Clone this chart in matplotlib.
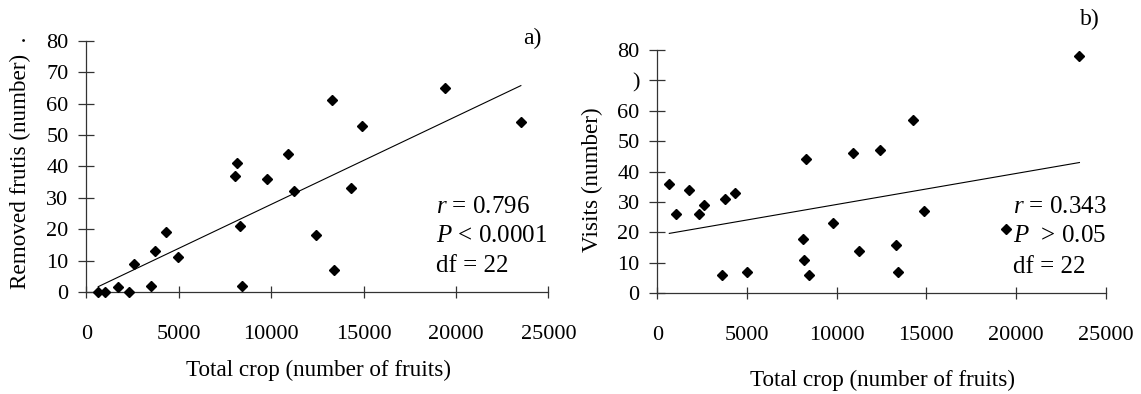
import matplotlib
matplotlib.use("Agg")
import matplotlib.pyplot as plt

plt.rcParams['font.family'] = ['Liberation Serif', 'DejaVu Serif']
plt.rcParams['mathtext.fontset'] = 'custom'
plt.rcParams['mathtext.rm'] = 'Liberation Serif'
plt.rcParams['mathtext.it'] = 'Liberation Serif:italic'

# panel a) removed fruits vs total crop
crop_a = [650, 1000, 1710, 2300, 2600, 3520, 3720, 4330, 4980, 8030, 8180, 8300,
          8440, 9760, 10900, 11250, 12430, 13300, 13430, 14300, 14910, 19430, 23510]
removed = [0, 0, 1.5, 0, 9, 2, 13, 19, 11, 37, 41, 21,
           2, 36, 44, 32, 18, 61, 7, 33, 53, 65, 54]
fit_a_x = [650, 23510]
fit_a_y = [1.7, 65.7]

# panel b) visits vs total crop
crop_b = [670, 1050, 1780, 2330, 2620, 3610, 3790, 4320, 5010, 8110, 8170, 8310,
          8440, 9810, 10890, 11250, 12410, 13300, 13440, 14250, 14860, 19470, 23540]
visits = [36, 26, 34, 26, 29, 6, 31, 33, 7, 18, 11, 44,
          6, 23, 46, 14, 47, 16, 7, 57, 27, 21, 78]
fit_b_x = [670, 23540]
fit_b_y = [19.7, 43.0]

xticks = [0, 5000, 10000, 15000, 20000, 25000]
yticks = [0, 10, 20, 30, 40, 50, 60, 70, 80]
yticklabels_a = ['0', '10', '20', '30', '40', '50', '60', '70', '80']
yticklabels_b = ['0', '10', '20', '30', '40', '50', '60', ')', '80']

W, H = 1141, 394
fig = plt.figure(figsize=(W / 100, H / 100), dpi=100)

ax1 = fig.add_axes([86.2 / W, 1 - 292 / H, 462.2 / W, 251.3 / H])
ax2 = fig.add_axes([657.3 / W, 1 - 293.3 / H, 448.3 / W, 243.3 / H])

fs = 16
lfs = 16.7
for ax, x, y, fx, fy, ylabs in [(ax1, crop_a, removed, fit_a_x, fit_a_y, yticklabels_a),
                                (ax2, crop_b, visits, fit_b_x, fit_b_y, yticklabels_b)]:
    ax.plot(x, y, 'kD', ms=5.5, clip_on=False, zorder=3)
    ax.plot(fx, fy, 'k-', lw=0.8)
    ax.set_xlim(0, 25000)
    ax.set_ylim(0, 80)
    ax.set_xticks(xticks)
    ax.set_xticklabels([str(t) for t in xticks])
    ax.set_yticks(yticks)
    ax.set_yticklabels(ylabs)
    for s in ['top', 'right']:
        ax.spines[s].set_visible(False)
    for s in ['left', 'bottom']:
        ax.spines[s].set_color('#333333')
        ax.spines[s].set_linewidth(0.9)
    ax.tick_params(axis='x', direction='inout', length=9, width=0.9, color='#333333',
                   labelsize=fs, pad=19)
    ax.tick_params(axis='y', direction='inout', length=11.5, width=0.9, color='#333333',
                   labelsize=fs, pad=7)
    ax.patch.set_alpha(0)

# stats text
sfs = 18
for yy, s in [(27.1, r'$r$ = 0.796'), (17.8, r'$P$ < 0.0001'), (8.3, 'df = 22')]:
    ax1.text(18920, yy, s, fontsize=sfs, va='center', ha='left')
for yy, s in [(28.4, r'$r$ = 0.343'), (18.8, r'$P$  > 0.05'), (8.6, 'df = 22')]:
    ax2.text(19836, yy, s, fontsize=sfs, va='center', ha='left')

fig.text(532 / W, 1 - 38 / H, 'a)', fontsize=17, ha='center', va='center')
fig.text(1090 / W, 1 - 19 / H, 'b)', fontsize=17, ha='center', va='center')

fig.text(318 / W, 1 - 370 / H, 'Total crop (number of fruits)', fontsize=lfs,
         ha='center', va='center')
fig.text(883 / W, 1 - 380 / H, 'Total crop (number of fruits)', fontsize=lfs,
         ha='center', va='center')
fig.text(20 / W, 1 - 163 / H, 'Removed frutis (number)  .', fontsize=lfs,
         rotation=90, ha='center', va='center')
fig.text(592 / W, 1 - 180 / H, 'Visits (number)', fontsize=lfs,
         rotation=90, ha='center', va='center')

fig.savefig('out.png', dpi=100)
